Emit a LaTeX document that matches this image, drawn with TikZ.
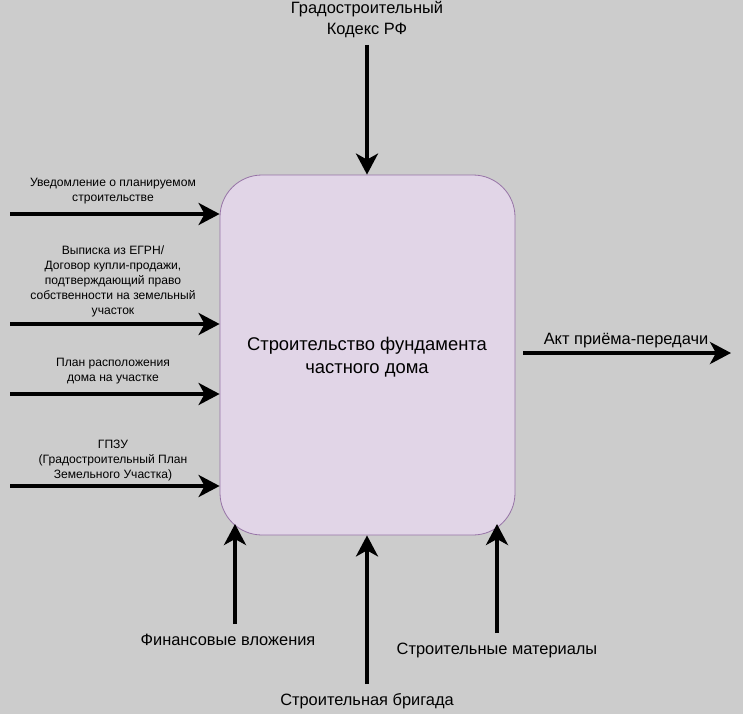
\documentclass[tikz,border=0pt]{standalone}
\usepackage{fontspec}
\setmainfont{Liberation Sans}
\usetikzlibrary{arrows.meta,calc}
\definecolor{bgc}{HTML}{CCCCCC}
\definecolor{boxfill}{HTML}{E1D5E7}
\definecolor{boxline}{HTML}{9673A6}
\begin{document}
\begin{tikzpicture}[x=1pt,y=-1pt,
  flow/.style={line width=4.8pt,-{Stealth[length=21pt,width=22pt,inset=6pt]}},
  small/.style={font=\fontsize{12.1}{15}\selectfont,align=center,inner sep=0pt},
  big/.style={font=\fontsize{16.4}{21}\selectfont,align=center,inner sep=0pt},
  proc/.style={draw=boxline,fill=boxfill,rounded corners=42pt,line width=0.8pt,
    minimum width=295pt,minimum height=360pt,inner sep=0pt}]
\fill[bgc] (0,0) rectangle (743,714);
\useasboundingbox (0,0) rectangle (743,714);

\node[proc] (box) at (367.5,355) {};
\node[font=\fontsize{18.4}{23}\selectfont,align=center,inner sep=0pt] (boxt) at (367,357) {Строительство фундамента\\частного дома};

% top control
\coordinate (ctl) at (367,45);
\node[big] (ctlt) at (367,20) {Градостроительный\\Кодекс РФ};
\draw[flow] (ctl) -- (ctl |- box.north);

% inputs
\coordinate (in1) at (10,214);
\coordinate (in2) at (10,324);
\coordinate (in3) at (10,394);
\coordinate (in4) at (10,486);
\draw[flow] (in1) -- (in1 -| box.west);
\draw[flow] (in2) -- (in2 -| box.west);
\draw[flow] (in3) -- (in3 -| box.west);
\draw[flow] (in4) -- (in4 -| box.west);
\node[small] (l1) at (113,191) {Уведомление о планируемом\\строительстве};
\node[small] (l2) at (113,281) {Выписка из ЕГРН/\\Договор купли-продажи,\\подтверждающий право\\собственности на земельный\\участок};
\node[small] (l3) at (113,371) {План расположения\\дома на участке};
\node[small] (l4) at (113,460.5) {ГПЗУ\\(Градостроительный План\\Земельного Участка)};

% output
\coordinate (outa) at (523,353);
\coordinate (outb) at (731,353);
\draw[flow] (outa) -- (outb);
\node[big] (outl) at (626,341) {Акт приёма-передачи};

% mechanisms
\coordinate (m1) at (235,624);
\coordinate (m1t) at (235,524);
\coordinate (m2) at (367,684);
\coordinate (m3) at (497,633);
\coordinate (m3t) at (497,524);
\draw[flow] (m1) -- (m1t);
\draw[flow] (m2) -- (m2 |- box.south);
\draw[flow] (m3) -- (m3t);
\node[big] (m1l) at (228,640) {Финансовые вложения};
\node[big] (m2l) at (367,701) {Строительная бригада};
\node[big] (m3l) at (497,650) {Строительные материалы};
\end{tikzpicture}
\end{document}
